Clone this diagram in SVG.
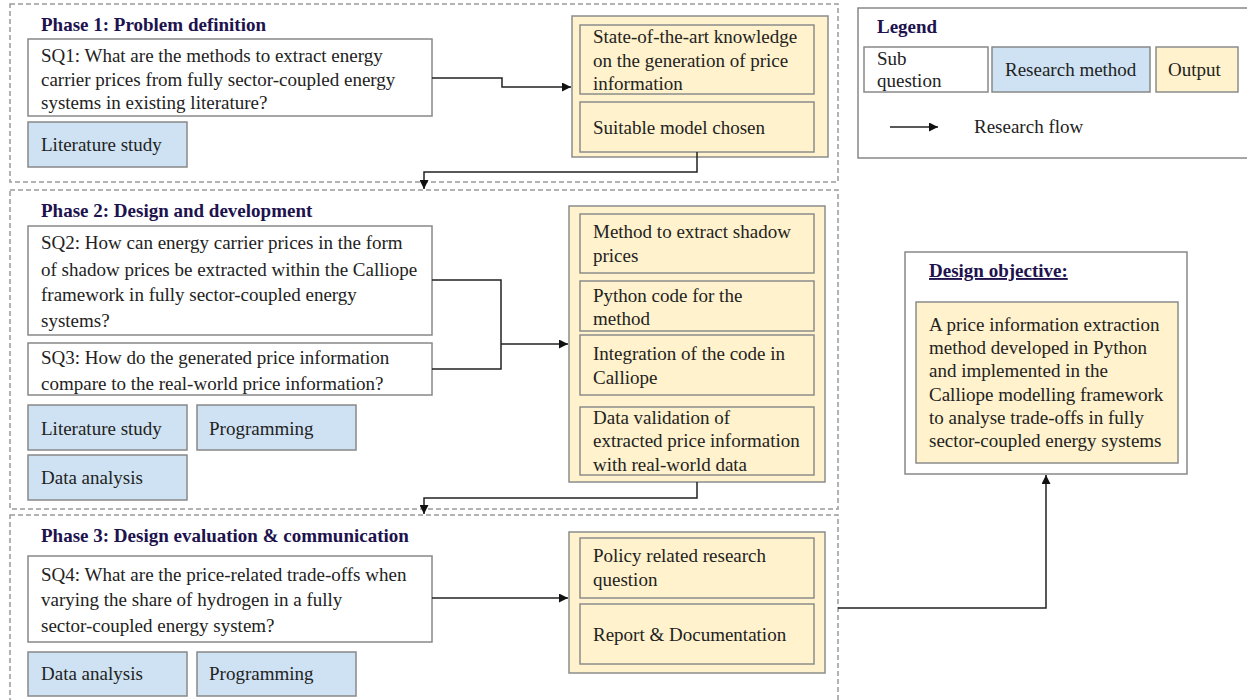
<svg xmlns="http://www.w3.org/2000/svg" width="1247" height="700" viewBox="0 0 1247 700">
  <defs>
    <style>
      text { font-family: "Liberation Serif", "Times New Roman", serif; font-size: 19px; fill: #222; }
      .title { font-weight: bold; fill: #20124d; }
      .phase { fill: none; stroke: #9a9a9a; stroke-width: 1.5; stroke-dasharray: 5 3; }
      .sq { fill: #ffffff; stroke: #888; stroke-width: 1.5; }
      .method { fill: #cfe2f3; stroke: #888; stroke-width: 1.5; }
      .output { fill: #fff2cc; stroke: #8c8c8c; stroke-width: 1.5; }
      .frame { fill: #ffffff; stroke: #888; stroke-width: 1.5; }
      .flow { fill: none; stroke: #222; stroke-width: 1.5; marker-end: url(#arrow); }
      .line { fill: none; stroke: #222; stroke-width: 1.5; }
    </style>
    <marker id="arrow" viewBox="0 0 10 10" refX="10" refY="5" markerWidth="10" markerHeight="9" markerUnits="userSpaceOnUse" orient="auto">
      <path d="M0,0 L10,5 L0,10 z" fill="#111"/>
    </marker>
  </defs>

  <rect width="1247" height="700" fill="#ffffff"/>

  <!-- Phase frames -->
  <g id="phase-frames">
    <rect class="phase" x="10" y="4" width="828" height="178"/>
    <rect class="phase" x="10" y="190" width="828" height="319"/>
    <rect class="phase" x="10" y="515" width="828" height="190"/>
  </g>

  <!-- Phase 1 -->
  <g id="phase1">
    <text class="title" x="41" y="31">Phase 1: Problem definition</text>
    <g id="sq1">
      <rect class="sq" x="28" y="39" width="404" height="77"/>
      <text x="41" y="62">SQ1: What are the methods to extract energy</text>
      <text x="41" y="86">carrier prices from fully sector-coupled energy</text>
      <text x="41" y="109">systems in existing literature?</text>
    </g>
    <g id="p1-literature">
      <rect class="method" x="28" y="122" width="159" height="45"/>
      <text x="41" y="151">Literature study</text>
    </g>
    <g id="p1-outputs">
      <rect class="output" x="572" y="16" width="256" height="141"/>
      <rect class="output" x="580" y="25" width="234" height="69"/>
      <text x="593" y="43">State-of-the-art knowledge</text>
      <text x="593" y="67">on the generation of price</text>
      <text x="593" y="90">information</text>
      <rect class="output" x="580" y="102" width="234" height="50"/>
      <text x="593" y="134">Suitable model chosen</text>
    </g>
  </g>

  <!-- Phase 2 -->
  <g id="phase2">
    <text class="title" x="41" y="217">Phase 2: Design and development</text>
    <g id="sq2">
      <rect class="sq" x="28" y="226" width="404" height="109"/>
      <text x="41" y="249">SQ2: How can energy carrier prices in the form</text>
      <text x="41" y="276">of shadow prices be extracted within the Calliope</text>
      <text x="41" y="301">framework in fully sector-coupled energy</text>
      <text x="41" y="327">systems?</text>
    </g>
    <g id="sq3">
      <rect class="sq" x="28" y="343" width="404" height="52"/>
      <text x="41" y="364">SQ3: How do the generated price information</text>
      <text x="41" y="390">compare to the real-world price information?</text>
    </g>
    <g id="p2-literature">
      <rect class="method" x="28" y="405" width="159" height="45"/>
      <text x="41" y="435">Literature study</text>
    </g>
    <g id="p2-programming">
      <rect class="method" x="197" y="405" width="159" height="45"/>
      <text x="209" y="435">Programming</text>
    </g>
    <g id="p2-data">
      <rect class="method" x="28" y="455" width="159" height="45"/>
      <text x="41" y="484">Data analysis</text>
    </g>
    <g id="p2-outputs">
      <rect class="output" x="569" y="206" width="256" height="276"/>
      <rect class="output" x="580" y="214" width="234" height="59"/>
      <text x="593" y="238">Method to extract shadow</text>
      <text x="593" y="262">prices</text>
      <rect class="output" x="580" y="281" width="234" height="50"/>
      <text x="593" y="302">Python code for the</text>
      <text x="593" y="325">method</text>
      <rect class="output" x="580" y="335" width="234" height="60"/>
      <text x="593" y="360">Integration of the code in</text>
      <text x="593" y="384">Calliope</text>
      <rect class="output" x="580" y="407" width="234" height="68"/>
      <text x="593" y="424">Data validation of</text>
      <text x="593" y="447">extracted price information</text>
      <text x="593" y="471">with real-world data</text>
    </g>
  </g>

  <!-- Phase 3 -->
  <g id="phase3">
    <text class="title" x="41" y="542">Phase 3: Design evaluation &amp; communication</text>
    <g id="sq4">
      <rect class="sq" x="28" y="556" width="404" height="86"/>
      <text x="41" y="581">SQ4: What are the price-related trade-offs when</text>
      <text x="41" y="606">varying the share of hydrogen in a fully</text>
      <text x="41" y="632">sector-coupled energy system?</text>
    </g>
    <g id="p3-data">
      <rect class="method" x="28" y="652" width="159" height="44"/>
      <text x="41" y="680">Data analysis</text>
    </g>
    <g id="p3-programming">
      <rect class="method" x="197" y="652" width="159" height="44"/>
      <text x="209" y="680">Programming</text>
    </g>
    <g id="p3-outputs">
      <rect class="output" x="569" y="532" width="256" height="141"/>
      <rect class="output" x="580" y="538" width="234" height="60"/>
      <text x="593" y="562">Policy related research</text>
      <text x="593" y="586">question</text>
      <rect class="output" x="580" y="604" width="234" height="60"/>
      <text x="593" y="641">Report &amp; Documentation</text>
    </g>
  </g>

  <!-- Design objective -->
  <g id="design-objective">
    <rect class="frame" x="905" y="252" width="282" height="222"/>
    <text class="title" x="929" y="277" text-decoration="underline">Design objective:</text>
    <rect class="output" x="916" y="302" width="262" height="161"/>
    <text x="929" y="331">A price information extraction</text>
    <text x="929" y="354">method developed in Python</text>
    <text x="929" y="377">and implemented in the</text>
    <text x="929" y="401">Calliope modelling framework</text>
    <text x="929" y="424">to analyse trade-offs in fully</text>
    <text x="929" y="447">sector-coupled energy systems</text>
  </g>

  <!-- Legend -->
  <g id="legend">
    <rect class="frame" x="858" y="8" width="400" height="150"/>
    <text class="title" x="877" y="33">Legend</text>
    <rect class="sq" x="864" y="47" width="124" height="45"/>
    <text x="877" y="65">Sub</text>
    <text x="877" y="87">question</text>
    <rect class="method" x="992" y="47" width="158" height="45"/>
    <text x="1005" y="76">Research method</text>
    <rect class="output" x="1156" y="47" width="82" height="45"/>
    <text x="1168" y="76">Output</text>
    <line class="flow" x1="890" y1="127" x2="938" y2="127"/>
    <text x="974" y="133">Research flow</text>
  </g>

  <!-- Connectors -->
  <g id="connectors">
    <polyline class="flow" points="432,78 502,78 502,87 571,87"/>
    <polyline class="flow" points="697,152 697,172 424,172 424,189"/>
    <polyline class="line" points="432,280 501,280 501,369 432,369"/>
    <polyline class="flow" points="501,344 568,344"/>
    <polyline class="flow" points="697,482 697,498 424,498 424,514"/>
    <polyline class="flow" points="432,598 568,598"/>
    <polyline class="flow" points="838,608 1046,608 1046,475"/>
  </g>
</svg>
